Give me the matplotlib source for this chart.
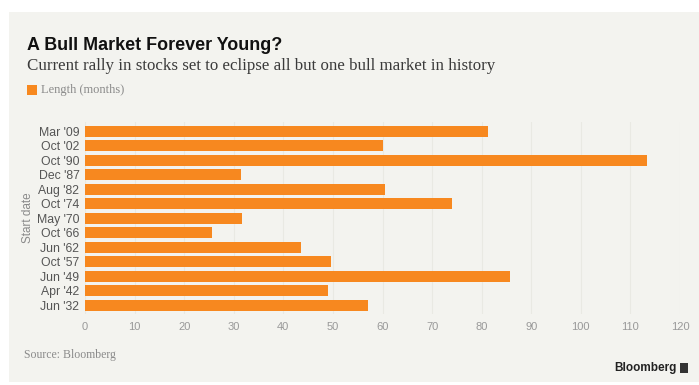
import matplotlib.pyplot as plt
from matplotlib.patches import Rectangle

# datos del grafico (de arriba hacia abajo)
labels = ["Mar '09", "Oct '02", "Oct '90", "Dec '87", "Aug '82", "Oct '74", "May '70",
          "Oct '66", "Jun '62", "Oct '57", "Jun '49", "Apr '42", "Jun '32"]
months = [81.3, 60, 113.4, 31.5, 60.5, 74, 31.6, 25.7, 43.5, 49.7, 85.7, 49, 57.1]
xticks = [0, 10, 20, 30, 40, 50, 60, 70, 80, 90, 100, 110, 120]

orange = '#F7881F'
bg = '#F3F3EF'
grey = '#8A8A8A'

fig = plt.figure(figsize=(6.99, 3.85), dpi=100)
fig.patch.set_facecolor('white')
# panel gris de fondo
fig.add_artist(Rectangle((9 / 699, 3 / 385), 690 / 699, 370 / 385,
                         transform=fig.transFigure, facecolor=bg,
                         edgecolor='none', zorder=-10))

ax = fig.add_axes([85 / 699, 0.185, 595 / 699, 0.497])
ax.set_facecolor(bg)
ypos = list(range(len(labels)))[::-1]
ax.barh(ypos, months, height=0.76, color=orange, zorder=3)
ax.set_xlim(0, 120)
ax.set_ylim(-0.6, len(labels) - 0.4)
ax.set_yticks(ypos)
ax.set_yticklabels(labels, fontsize=8.8, color='#555555', family='Liberation Sans')
ax.set_xticks(xticks)
ax.set_xticklabels([str(t) for t in xticks], fontsize=8, color='#999999', family='Liberation Sans')
ax.tick_params(length=0, pad=4)
ax.tick_params(axis='x', pad=6)
ax.grid(axis='x', color='#E9E9E3', linewidth=0.8, zorder=0)
for s in ax.spines.values():
    s.set_visible(False)
ax.set_ylabel('Start date', fontsize=8.5, color=grey, family='Liberation Sans', labelpad=2)

# titulos
fig.text(27 / 699, 1 - 45 / 385, 'A Bull Market Forever Young?', fontsize=12.9,
         fontweight='bold', family='Liberation Sans', color='#111111', va='center')
fig.text(27 / 699, 1 - 66 / 385,
         'Current rally in stocks set to eclipse all but one bull market in history',
         fontsize=12.2, family='Liberation Serif', color='#3A3A3A', va='center')
# leyenda
fig.add_artist(Rectangle((27 / 699, 1 - 95 / 385), 10 / 699, 10 / 385,
                         transform=fig.transFigure, facecolor=orange,
                         edgecolor='none'))
fig.text(41 / 699, 1 - 90 / 385, 'Length (months)', fontsize=9,
         family='Liberation Serif', color=grey, va='center')

fig.text(24 / 699, 1 - 355 / 385, 'Source: Bloomberg', fontsize=8.5,
         family='Liberation Serif', color=grey, va='center')
fig.text(677 / 699, 1 - 368 / 385, 'Bloomberg', fontsize=8.5, fontweight='bold',
         family='Liberation Sans', color='#222222', va='center', ha='right')
fig.add_artist(Rectangle((680 / 699, 1 - 373 / 385), 8 / 699, 10 / 385,
                         transform=fig.transFigure, facecolor='#333333',
                         edgecolor='none'))

plt.savefig('out.png', dpi=100)
